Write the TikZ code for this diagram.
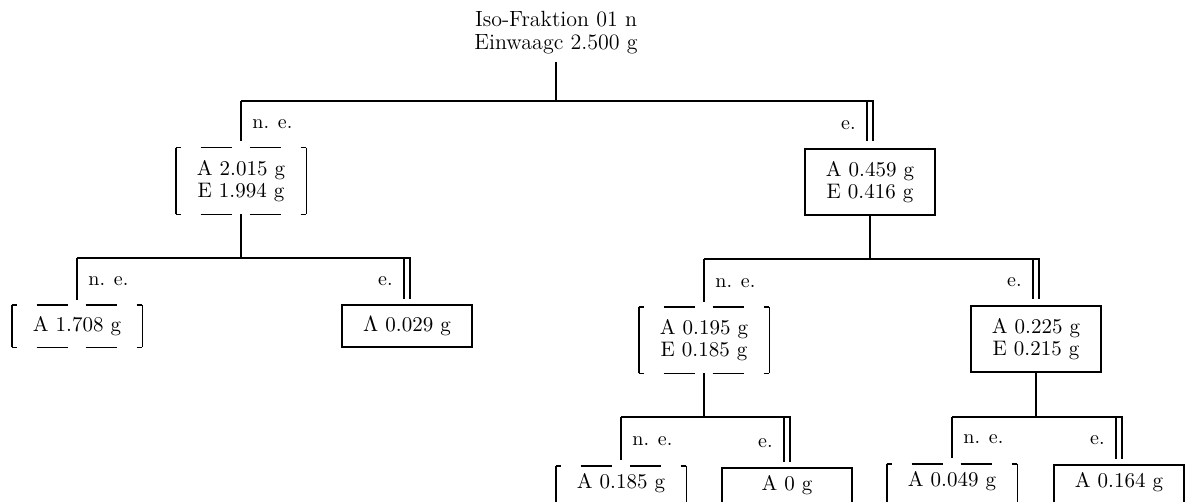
\documentclass[tikz,border=0pt]{standalone}
\newcommand\boxfont{\fontsize{10.5}{11}\selectfont}
\newcommand\nebracket[1]{%
  \draw[conn] (#1.north west) -- (#1.south west);
  \draw[conn] (#1.north east) -- (#1.south east);
  \draw[conn,nedash] (#1.north west) -- (#1.north east);
  \draw[conn,nedash] (#1.south west) -- (#1.south east);}
\begin{document}
\begin{tikzpicture}[x=0.5pt,y=-0.5pt,
  conn/.style={line width=0.9pt},
  nedash/.style={dash pattern=on 2.5pt off 10pt on 15.5pt off 9pt on 15.5pt off 10pt on 2.5pt},
  dbl/.style={line width=0.8pt,double distance=2.2pt},
  ebox/.style={draw,line width=0.9pt,inner sep=0pt,align=center,font=\boxfont,minimum width=65pt},
  nebox/.style={inner sep=0pt,align=center,font=\boxfont,minimum width=65pt},
  tall/.style={minimum height=33pt},
  short/.style={minimum height=21pt},
  lowbox/.style={text height=11pt,text depth=10pt},
  lbl/.style={font=\fontsize{10}{12}\selectfont,inner sep=0pt}]
\useasboundingbox (0,0) rectangle (1186,502);
\clip (0,0) rectangle (1186,502);

% nodes
\node[font=\fontsize{11}{11.5}\selectfont,align=center,inner sep=0pt] (root) at (556,33) {Iso-Fraktion 01 n\\Einwaagc 2.500 g};
\node[nebox,tall] (L) at (241,181) {A 2.015 g\\E 1.994 g};
\node[ebox,tall] (R) at (870,182) {A 0.459 g\\E 0.416 g};
\node[nebox,short] (LL) at (77,326) {A 1.708 g};
\node[ebox,short] (LR) at (407,326) {$\Lambda$ 0.029 g};
\node[nebox,tall] (RL) at (704,340) {A 0.195 g\\E 0.185 g};
\node[ebox,tall] (RR) at (1036,339) {A 0.225 g\\E 0.215 g};
\node[nebox,lowbox] (RLL) at (621,487) {A 0.185 g};
\node[ebox,lowbox] (RLR) at (787,489) {A 0 g};
\node[nebox,lowbox] (RRL) at (952,485) {A 0.049 g};
\node[ebox,lowbox] (RRR) at (1119,486) {A 0.164 g};

\nebracket{L}
\nebracket{LL}
\nebracket{RL}
\nebracket{RLL}
\nebracket{RRL}

% level 1
\coordinate (j0) at (556,101);
\draw[conn] ([yshift=-3.5pt]root.south) -- (j0);
\draw[conn] ([yshift=3.5pt]L.north) -- (L.north |- j0);
\draw[dbl] (R.north |- j0) -- ([yshift=3.5pt]R.north);
\draw[conn] (L.north |- j0) -- ([xshift=2pt]R.north |- j0);
\node[lbl,anchor=west] (ne1) at ([xshift=5.5pt,yshift=11.5pt]L.north) {n. e.};
\node[lbl,anchor=east] (e1) at ([xshift=-7pt,yshift=11.5pt]R.north) {e.};

% level 2 left
\coordinate (j1) at (241,258);
\draw[conn] (L.south) -- (j1);
\draw[conn] ([yshift=2.5pt]LL.north) -- (LL.north |- j1);
\draw[dbl] (LR.north |- j1) -- ([yshift=2.5pt]LR.north);
\draw[conn] (LL.north |- j1) -- ([xshift=2pt]LR.north |- j1);
\node[lbl,anchor=west] (ne2) at ([xshift=5.5pt,yshift=11.5pt]LL.north) {n. e.};
\node[lbl,anchor=east] (e2) at ([xshift=-7pt,yshift=11.5pt]LR.north) {e.};

% level 2 right
\coordinate (j2) at (870,259);
\draw[conn] (R.south) -- (j2);
\draw[conn] ([yshift=2.5pt]RL.north) -- (RL.north |- j2);
\draw[dbl] (RR.north |- j2) -- ([yshift=3pt]RR.north);
\draw[conn] (RL.north |- j2) -- ([xshift=2pt]RR.north |- j2);
\node[lbl,anchor=west] (ne3) at ([xshift=5.5pt,yshift=11.5pt]RL.north) {n. e.};
\node[lbl,anchor=east] (e3) at ([xshift=-7pt,yshift=11.5pt]RR.north) {e.};

% level 3 under RL
\coordinate (j3) at (704,417);
\draw[conn] (RL.south) -- (j3);
\draw[conn] ([yshift=3pt]RLL.north) -- (RLL.north |- j3);
\draw[dbl] (RLR.north |- j3) -- ([yshift=2.5pt]RLR.north);
\draw[conn] (RLL.north |- j3) -- ([xshift=2pt]RLR.north |- j3);
\node[lbl,anchor=west] (ne4) at ([xshift=5.5pt,yshift=12pt]RLL.north) {n. e.};
\node[lbl,anchor=east] (e4) at ([xshift=-7pt,yshift=12pt]RLR.north) {e.};

% level 3 under RR
\coordinate (j4) at (1036,417);
\draw[conn] (RR.south) -- (j4);
\draw[conn] ([yshift=3pt]RRL.north) -- (RRL.north |- j4);
\draw[dbl] (RRR.north |- j4) -- ([yshift=2.5pt]RRR.north);
\draw[conn] (RRL.north |- j4) -- ([xshift=2pt]RRR.north |- j4);
\node[lbl,anchor=west] (ne5) at ([xshift=5.5pt,yshift=12pt]RRL.north) {n. e.};
\node[lbl,anchor=east] (e5) at ([xshift=-7pt,yshift=12pt]RRR.north) {e.};
\end{tikzpicture}
\end{document}
